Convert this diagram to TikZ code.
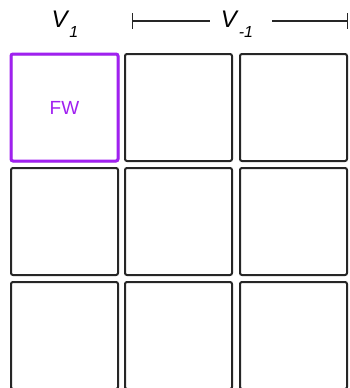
\documentclass[tikz,border=0pt]{standalone}
\usepackage{fontspec}
\setmainfont{Liberation Sans}
\usetikzlibrary{arrows.meta}
\definecolor{fwpurple}{RGB}{160,32,240}
\newcommand{\vlabel}[1]{\textit{V}\raisebox{-0.75ex}{\fontsize{16}{16}\selectfont\textit{#1}}}
\begin{document}
\begin{tikzpicture}[x=1pt, y=-1pt,
  cell/.style={draw=black!85, line width=2pt, rounded corners=2pt, minimum size=107pt, inner sep=0pt},
  fwcell/.style={cell, draw=fwpurple, line width=3pt, text=fwpurple, font=\fontsize{19}{19}\selectfont},
  head/.style={font=\fontsize{24}{24}\selectfont, inner sep=0pt},
  span/.style={line width=1.3pt, black!85}
]
  \useasboundingbox (0,0) rectangle (350,388);
  \clip (0,0) rectangle (350,388);

  % Header
  \node[head] (v1) at (65,24) {\vlabel{1}};
  \node[head] (vm1) at (237,24) {\vlabel{-1}};
  \coordinate (spanL) at (132,21);
  \coordinate (spanLend) at (210,21);
  \coordinate (spanRstart) at (272,21);
  \coordinate (spanR) at (348,21);
  \draw[span, {Bar[width=16pt]}-] (spanL) -- (spanLend);
  \draw[span, -{Bar[width=16pt]}] (spanRstart) -- (spanR);

  % Grid of cells
  \foreach \r/\y in {1/107.5, 2/221.5, 3/335.5} {
    \foreach \c/\x in {1/64.5, 2/178.5, 3/293.5} {
      \node[cell] (c\r\c) at (\x,\y) {};
    }
  }
  \node[fwcell] (fw) at (64.5,107.5) {FW};
\end{tikzpicture}
\end{document}
